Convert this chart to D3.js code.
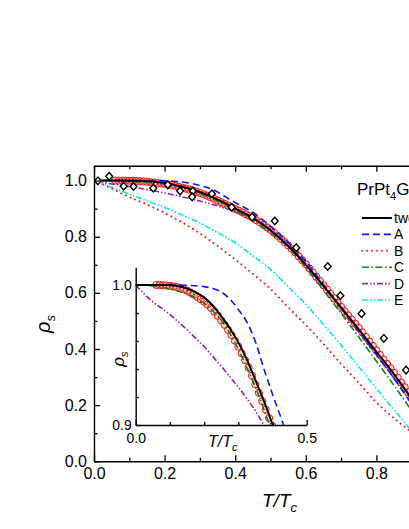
<!DOCTYPE html>
<html>
<head>
<meta charset="utf-8">
<script src="https://cdn.jsdelivr.net/npm/d3@7"></script>
<style>
  body { margin: 0; background: #fff; overflow: hidden; }
  svg { display: block; font-family: "Liberation Sans", Arial, sans-serif; }
</style>
</head>
<body>
<div id="wrapper"></div>
<script>
// values
const tGrid = [0, 0.025, 0.05, 0.075, 0.1, 0.125, 0.15, 0.175, 0.2, 0.225, 0.25, 0.275, 0.3, 0.325, 0.35, 0.375, 0.4, 0.425, 0.45, 0.5, 0.55, 0.6, 0.65, 0.7, 0.75, 0.8, 0.85, 0.9, 0.95, 1.0]
const rhoTwoGap = [1.0, 1.0, 1.0, 0.9999, 0.9998, 0.9991, 0.9975, 0.9948, 0.9911, 0.9853, 0.9778, 0.9691, 0.959, 0.9467, 0.932, 0.917, 0.9005, 0.884, 0.867, 0.823, 0.767, 0.70, 0.625, 0.548, 0.47, 0.39, 0.31, 0.222, 0.125, 0]
const rhoA = [1.0, 1.0, 1.0, 1.0, 1.0, 1.0, 0.9998, 0.9994, 0.9988, 0.9975, 0.995, 0.990, 0.9825, 0.9735, 0.9595, 0.940, 0.922, 0.905, 0.887, 0.837, 0.78, 0.712, 0.63, 0.546, 0.463, 0.38, 0.295, 0.203, 0.107, 0]
const rhoB = [1.0, 0.986, 0.972, 0.956, 0.941, 0.928, 0.915, 0.90, 0.885, 0.868, 0.851, 0.832, 0.812, 0.79, 0.767, 0.743, 0.719, 0.694, 0.668, 0.614, 0.549, 0.486, 0.418, 0.347, 0.28, 0.21, 0.153, 0.103, 0.052, 0]
const rhoC = [1.0, 0.9998, 0.9992, 0.9984, 0.997, 0.9955, 0.9935, 0.9908, 0.987, 0.9815, 0.975, 0.9655, 0.954, 0.941, 0.927, 0.911, 0.894, 0.876, 0.857, 0.815, 0.762, 0.692, 0.61, 0.527, 0.443, 0.357, 0.27, 0.18, 0.09, 0]
const rhoD = [1.0, 0.9935, 0.988, 0.9835, 0.979, 0.9735, 0.968, 0.962, 0.956, 0.949, 0.942, 0.9345, 0.927, 0.919, 0.910, 0.90, 0.89, 0.878, 0.864, 0.826, 0.772, 0.703, 0.623, 0.543, 0.462, 0.38, 0.295, 0.205, 0.11, 0]
const rhoE = [1.0, 0.988, 0.976, 0.964, 0.952, 0.94, 0.928, 0.916, 0.904, 0.891, 0.877, 0.863, 0.849, 0.832, 0.815, 0.797, 0.779, 0.756, 0.732, 0.684, 0.622, 0.559, 0.487, 0.414, 0.337, 0.259, 0.184, 0.109, 0.055, 0]

// red open circles (dense band)
const tRed = [0.06, 0.07, 0.08, 0.09, 0.10, 0.11, 0.12, 0.13, 0.14, 0.15, 0.16, 0.17, 0.18, 0.19, 0.20, 0.21, 0.22, 0.23, 0.24, 0.25, 0.26, 0.27, 0.28, 0.29, 0.30, 0.31, 0.32, 0.33, 0.34, 0.35, 0.36, 0.37, 0.38, 0.39, 0.40,
  0.41, 0.42, 0.43, 0.44, 0.45, 0.46, 0.47, 0.48, 0.49, 0.50, 0.51, 0.52, 0.53, 0.54, 0.55, 0.56, 0.57, 0.58, 0.59, 0.60, 0.61, 0.62, 0.63, 0.64, 0.65,
  0.66, 0.67, 0.68, 0.69, 0.70, 0.71, 0.72, 0.73, 0.74, 0.75, 0.76, 0.77, 0.78, 0.79, 0.80, 0.81, 0.82, 0.83, 0.84, 0.85, 0.86, 0.87, 0.88, 0.89, 0.90]
const rhoRed = [1.0, 1.0, 0.9998, 0.9996, 0.9993, 0.999, 0.9985, 0.9978, 0.997, 0.996, 0.9945, 0.993, 0.9914, 0.9898, 0.9881, 0.986, 0.9836, 0.981, 0.978, 0.9748, 0.9715, 0.968, 0.9642, 0.9602, 0.956, 0.9512, 0.9462, 0.941, 0.9352, 0.929, 0.923, 0.917, 0.911, 0.905, 0.899,
  0.893, 0.887, 0.880, 0.874, 0.867, 0.859, 0.851, 0.842, 0.833, 0.824, 0.814, 0.803, 0.792, 0.781, 0.769, 0.757, 0.744, 0.730, 0.716, 0.702, 0.687, 0.672, 0.657, 0.642, 0.627,
  0.612, 0.596, 0.581, 0.565, 0.550, 0.535, 0.520, 0.505, 0.490, 0.475, 0.459, 0.443, 0.427, 0.411, 0.395, 0.379, 0.363, 0.347, 0.331, 0.315, 0.298, 0.281, 0.264, 0.246, 0.228]

// measured points (open diamonds)
const tData = [0.011, 0.043, 0.084, 0.112, 0.168, 0.209, 0.244, 0.280, 0.278, 0.334, 0.390, 0.448, 0.512, 0.573, 0.662, 0.698, 0.758, 0.821, 0.884]
const rhoData = [0.999, 1.015, 0.980, 0.979, 0.973, 0.985, 0.963, 0.963, 0.942, 0.953, 0.905, 0.870, 0.856, 0.761, 0.694, 0.590, 0.526, 0.438, 0.325]

const legendLabels = ['two-gap', 'A', 'B', 'C', 'D', 'E']
const xMajor = [0, 0.2, 0.4, 0.6, 0.8, 1.0]
const xMinor = [0.1, 0.3, 0.5, 0.7, 0.9]
const yMajor = [0, 0.2, 0.4, 0.6, 0.8, 1.0]
const yMinor = [0.1, 0.3, 0.5, 0.7, 0.9]
const insetXMajor = [0, 0.5]
const insetXMinor = [0.1, 0.2, 0.3, 0.4]
const insetYMajor = [0.9, 1.0]
const insetYMinor = [0.92, 0.94, 0.96, 0.98]

const styles = {
    'two-gap': { color: '#000', dash: null, width: 2 },
    A: { color: '#1515ff', dash: '7,4', width: 1.6 },
    B: { color: '#ff1a1a', dash: '0.01,5', width: 2, cap: 'round' },
    C: { color: '#0a8a0a', dash: '7,2.5,1.5,2.5', width: 1.6 },
    D: { color: '#8a2aa8', dash: '6,2,1.5,2,1.5,2', width: 1.6 },
    E: { color: '#00e5f5', dash: '6,2,1.5,2,1.5,2', width: 1.6 }
}

function render() {
    const dimensions = {
        width: 409,
        height: 529,
        margins: { top: 165.7, left: 94 },
        boundedWidth: 353,
        boundedHeight: 295.6
    }
    const inset = { left: 135.7, top: 267.3, width: 171, height: 157.7 }

    const svg = d3.select('#wrapper').append('svg')
        .attr('width', dimensions.width)
        .attr('height', dimensions.height)

    const defs = svg.append('defs')
    defs.append('clipPath').attr('id', 'clipMain').append('rect')
        .attr('x', dimensions.margins.left).attr('y', dimensions.margins.top)
        .attr('width', dimensions.boundedWidth).attr('height', dimensions.boundedHeight)
    defs.append('clipPath').attr('id', 'clipInset').append('rect')
        .attr('x', inset.left).attr('y', inset.top)
        .attr('width', inset.width).attr('height', inset.height)

    const bottomY = dimensions.margins.top + dimensions.boundedHeight
    const rightX = dimensions.margins.left + dimensions.boundedWidth

    const xScale = d3.scaleLinear().domain([0, 1]).range([dimensions.margins.left, rightX])
    const yScale = d3.scaleLinear().domain([0, 1.053]).range([bottomY, dimensions.margins.top])

    const xInset = d3.scaleLinear().domain([0, 0.5]).range([inset.left, inset.left + inset.width])
    const yInset = d3.scaleLinear().domain([0.9, 1.0126]).range([inset.top + inset.height, inset.top])

    const series = [
        { key: 'two-gap', values: rhoTwoGap },
        { key: 'A', values: rhoA },
        { key: 'B', values: rhoB },
        { key: 'C', values: rhoC },
        { key: 'D', values: rhoD },
        { key: 'E', values: rhoE }
    ]
    const drawOrder = ['E', 'B', 'D', 'C', 'A', 'two-gap']

    function drawPanel(g, xs, ys, keys) {
        const line = d3.line()
            .x((d, i) => xs(tGrid[i]))
            .y(d => ys(d))
            .curve(d3.curveMonotoneX)

        g.append('g').selectAll('circle').data(rhoRed).join('circle')
            .attr('cx', (d, i) => xs(tRed[i]))
            .attr('cy', d => ys(d))
            .attr('r', 3.6)
            .attr('fill', 'rgba(255,130,130,0.3)')
            .attr('stroke', '#ff1010')
            .attr('stroke-width', 1)

        drawOrder.filter(k => keys.includes(k)).forEach(k => {
            const s = series.find(d => d.key === k)
            const st = styles[k]
            g.append('path')
                .attr('d', line(s.values))
                .attr('fill', 'none')
                .attr('stroke', st.color)
                .attr('stroke-width', st.width)
                .attr('stroke-dasharray', st.dash)
                .attr('stroke-linecap', st.cap || 'butt')
        })
    }

    // main panel
    const mainG = svg.append('g').attr('clip-path', 'url(#clipMain)')
    drawPanel(mainG, xScale, yScale, ['two-gap', 'A', 'B', 'C', 'D', 'E'])

    mainG.append('g').selectAll('path').data(rhoData).join('path')
        .attr('d', (d, i) => {
            const cx = xScale(tData[i]), cy = yScale(d)
            return `M${cx},${cy - 3.8}L${cx + 3.4},${cy}L${cx},${cy + 3.8}L${cx - 3.4},${cy}Z`
        })
        .attr('fill', '#fff')
        .attr('stroke', '#000')
        .attr('stroke-width', 1.4)

    // inset panel
    const insetG = svg.append('g').attr('clip-path', 'url(#clipInset)')
    drawPanel(insetG, xInset, yInset, ['two-gap', 'A', 'C', 'D'])

    // axes
    const fmt = d3.format('.1f')
    function styleAxis(sel, size) {
        sel.selectAll('path.domain').attr('stroke', '#000').attr('stroke-width', 1.4)
        sel.selectAll('.tick line').attr('stroke', '#000').attr('stroke-width', 1.3)
        sel.selectAll('.tick text').attr('fill', '#000').style('font-size', size + 'px')
            .style('font-family', '"Liberation Sans", Arial, sans-serif')
    }
    function minor(sel) { sel.select('path.domain').remove() }

    const axes = svg.append('g')
    axes.append('g').attr('transform', `translate(0,${bottomY})`)
        .call(d3.axisBottom(xScale).tickValues(xMajor).tickFormat(fmt).tickSizeInner(-6).tickSizeOuter(0).tickPadding(6))
        .call(styleAxis, 16)
    axes.append('g').attr('transform', `translate(0,${bottomY})`)
        .call(d3.axisBottom(xScale).tickValues(xMinor).tickFormat('').tickSize(-3.5))
        .call(styleAxis, 16).call(minor)
    axes.append('g').attr('transform', `translate(0,${dimensions.margins.top})`)
        .call(d3.axisTop(xScale).tickValues(xMajor).tickFormat('').tickSizeInner(-6).tickSizeOuter(0))
        .call(styleAxis, 16)
    axes.append('g').attr('transform', `translate(0,${dimensions.margins.top})`)
        .call(d3.axisTop(xScale).tickValues(xMinor).tickFormat('').tickSize(-3.5))
        .call(styleAxis, 16).call(minor)
    axes.append('g').attr('transform', `translate(${dimensions.margins.left},0)`)
        .call(d3.axisLeft(yScale).tickValues(yMajor).tickFormat(fmt).tickSizeInner(-6).tickSizeOuter(0).tickPadding(7))
        .call(styleAxis, 16)
    axes.append('g').attr('transform', `translate(${dimensions.margins.left},0)`)
        .call(d3.axisLeft(yScale).tickValues(yMinor).tickFormat('').tickSize(-3.5))
        .call(styleAxis, 16).call(minor)
    axes.append('g').attr('transform', `translate(${rightX},0)`)
        .call(d3.axisRight(yScale).tickValues(yMajor).tickFormat('').tickSizeInner(-6).tickSizeOuter(0))
        .call(styleAxis, 16)

    // inset axes (left and bottom only)
    axes.append('g').attr('transform', `translate(0,${inset.top + inset.height})`)
        .call(d3.axisBottom(xInset).tickValues(insetXMajor).tickFormat(fmt).tickSizeInner(-5).tickSizeOuter(0).tickPadding(8))
        .call(styleAxis, 14)
    axes.append('g').attr('transform', `translate(0,${inset.top + inset.height})`)
        .call(d3.axisBottom(xInset).tickValues(insetXMinor).tickFormat('').tickSize(-3))
        .call(styleAxis, 14).call(minor)
    axes.append('g').attr('transform', `translate(${inset.left},0)`)
        .call(d3.axisLeft(yInset).tickValues(insetYMajor).tickFormat(fmt).tickSizeInner(-5).tickSizeOuter(0).tickPadding(4))
        .call(styleAxis, 14)
    axes.append('g').attr('transform', `translate(${inset.left},0)`)
        .call(d3.axisLeft(yInset).tickValues(insetYMinor).tickFormat('').tickSize(-3))
        .call(styleAxis, 14).call(minor)

    // axis titles
    const xTitle = svg.append('text').attr('x', 262).attr('y', 507)
        .style('font-size', '19px').style('font-style', 'italic')
    xTitle.append('tspan').text('T/T')
    xTitle.append('tspan').attr('dy', 5).style('font-size', '13px').text('c')

    const yTitle = svg.append('text').attr('transform', 'translate(50,324) rotate(-90)')
        .attr('text-anchor', 'middle').style('font-size', '20px').style('font-style', 'italic')
    yTitle.append('tspan').text('ρ')
    yTitle.append('tspan').attr('dy', 5).style('font-size', '13px').text('s')

    const xiTitle = svg.append('text').attr('x', 208).attr('y', 447)
        .style('font-size', '16px').style('font-style', 'italic')
    xiTitle.append('tspan').text('T/T')
    xiTitle.append('tspan').attr('dy', 4).style('font-size', '11px').text('c')

    const yiTitle = svg.append('text').attr('transform', 'translate(124,359) rotate(-90)')
        .attr('text-anchor', 'middle').style('font-size', '17px').style('font-style', 'italic')
    yiTitle.append('tspan').text('ρ')
    yiTitle.append('tspan').attr('dy', 4).style('font-size', '11px').text('s')

    // legend
    const title = svg.append('text').attr('x', 357).attr('y', 195).style('font-size', '17px')
    title.append('tspan').text('PrPt')
    title.append('tspan').attr('dy', 5).style('font-size', '11px').text('4')
    title.append('tspan').attr('dy', -5).text('Ge')
    title.append('tspan').attr('dy', 5).style('font-size', '11px').text('12')

    const legend = svg.append('g')
    legendLabels.forEach((k, i) => {
        const yRow = 218 + i * 16.4
        const st = styles[k]
        legend.append('line')
            .attr('x1', 362).attr('x2', 392).attr('y1', yRow).attr('y2', yRow)
            .attr('stroke', st.color).attr('stroke-width', st.width)
            .attr('stroke-dasharray', st.dash).attr('stroke-linecap', st.cap || 'butt')
        legend.append('text').attr('x', 394).attr('y', yRow + 5)
            .style('font-size', '14px').text(k)
    })
}

render()
</script>
</body>
</html>
